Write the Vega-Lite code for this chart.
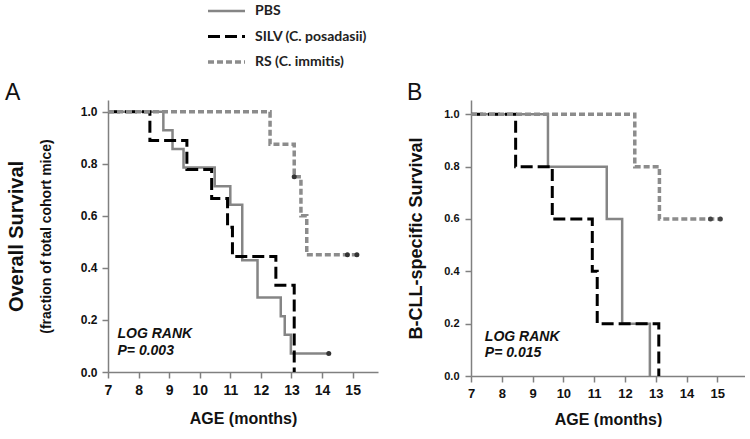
{
  "$schema": "https://vega.github.io/schema/vega-lite/v6.json",
  "background": "white",
  "padding": {"left": 4, "top": 0, "right": 0, "bottom": 0},
  "datasets": {
    "lines": [
      {"panel": "A", "series": "PBS", "x": 7, "y": 1},
      {"panel": "A", "series": "PBS", "x": 8.81, "y": 0.929},
      {"panel": "A", "series": "PBS", "x": 9.11, "y": 0.857},
      {"panel": "A", "series": "PBS", "x": 9.47, "y": 0.786},
      {"panel": "A", "series": "PBS", "x": 10.49, "y": 0.714},
      {"panel": "A", "series": "PBS", "x": 11.0, "y": 0.643},
      {"panel": "A", "series": "PBS", "x": 11.39, "y": 0.429},
      {"panel": "A", "series": "PBS", "x": 11.89, "y": 0.286},
      {"panel": "A", "series": "PBS", "x": 12.65, "y": 0.214},
      {"panel": "A", "series": "PBS", "x": 12.78, "y": 0.143},
      {"panel": "A", "series": "PBS", "x": 12.98, "y": 0.071},
      {"panel": "A", "series": "PBS", "x": 14.22, "y": 0.071},
      {"panel": "A", "series": "SILV", "x": 7, "y": 1},
      {"panel": "A", "series": "SILV", "x": 8.37, "y": 0.889},
      {"panel": "A", "series": "SILV", "x": 9.58, "y": 0.778},
      {"panel": "A", "series": "SILV", "x": 10.39, "y": 0.667},
      {"panel": "A", "series": "SILV", "x": 10.91, "y": 0.556},
      {"panel": "A", "series": "SILV", "x": 11.07, "y": 0.444},
      {"panel": "A", "series": "SILV", "x": 12.49, "y": 0.333},
      {"panel": "A", "series": "SILV", "x": 13.09, "y": 0},
      {"panel": "A", "series": "RS", "x": 7, "y": 1},
      {"panel": "A", "series": "RS", "x": 12.3, "y": 0.875},
      {"panel": "A", "series": "RS", "x": 13.09, "y": 0.75},
      {"panel": "A", "series": "RS", "x": 13.31, "y": 0.6},
      {"panel": "A", "series": "RS", "x": 13.5, "y": 0.45},
      {"panel": "A", "series": "RS", "x": 15.14, "y": 0.45},
      {"panel": "B", "series": "PBS", "x": 7, "y": 1},
      {"panel": "B", "series": "PBS", "x": 9.5, "y": 0.8},
      {"panel": "B", "series": "PBS", "x": 11.41, "y": 0.6},
      {"panel": "B", "series": "PBS", "x": 11.91, "y": 0.2},
      {"panel": "B", "series": "PBS", "x": 12.81, "y": 0},
      {"panel": "B", "series": "SILV", "x": 7, "y": 1},
      {"panel": "B", "series": "SILV", "x": 8.45, "y": 0.8},
      {"panel": "B", "series": "SILV", "x": 9.64, "y": 0.6},
      {"panel": "B", "series": "SILV", "x": 10.94, "y": 0.4},
      {"panel": "B", "series": "SILV", "x": 11.1, "y": 0.2},
      {"panel": "B", "series": "SILV", "x": 13.1, "y": 0},
      {"panel": "B", "series": "RS", "x": 7, "y": 1},
      {"panel": "B", "series": "RS", "x": 12.32, "y": 0.8},
      {"panel": "B", "series": "RS", "x": 13.12, "y": 0.6},
      {"panel": "B", "series": "RS", "x": 15.1, "y": 0.6}
    ],
    "censor": [
      {"panel": "A", "series": "PBS", "x": 14.22, "y": 0.071},
      {"panel": "A", "series": "RS", "x": 13.09, "y": 0.75},
      {"panel": "A", "series": "RS", "x": 14.83, "y": 0.45},
      {"panel": "A", "series": "RS", "x": 15.14, "y": 0.45},
      {"panel": "B", "series": "RS", "x": 14.78, "y": 0.6},
      {"panel": "B", "series": "RS", "x": 15.1, "y": 0.6}
    ],
    "notes": [
      {"panel": "A", "x": 7.31, "y": 0.13, "text": "LOG RANK\nP= 0.003"},
      {"panel": "B", "x": 7.45, "y": 0.135, "text": "LOG RANK\nP= 0.015"}
    ]
  },
  "spacing": 28,
  "hconcat": [
    {
      "width": 270,
      "height": 272,
      "title": {"text": "A", "anchor": "start", "frame": "bounds", "font": "Liberation Sans", "fontSize": 23, "fontWeight": "normal", "color": "#111", "baseline": "alphabetic", "offset": -23, "dx": -1},
      "resolve": {"axis": {"y": "independent"}},
      "layer": [
        {
          "data": {"name": "lines"},
          "transform": [{"filter": "datum.panel === 'A' && datum.series === 'PBS'"}],
          "mark": {"type": "line", "interpolate": "step-after"},
          "encoding": {
            "x": {"field": "x", "type": "quantitative", "scale": {"domain": [7, 15.83], "nice": false, "zero": false},
              "axis": {"values": [7, 8, 9, 10, 11, 12, 13, 14, 15], "tickCount": 20, "format": "d", "title": "AGE (months)", "labelFontSize": 14, "titleFontSize": 16, "labelPadding": 5, "titlePadding": 13, "labelFlush": false, "labelOverlap": false}},
            "y": {"field": "y", "type": "quantitative", "scale": {"domain": [0, 1.045], "nice": false, "zero": false},
              "axis": {"orient": "left", "values": [0, 0.2, 0.4, 0.6, 0.8, 1.0], "tickCount": 20, "format": ".1f", "title": "Overall Survival", "titleFontSize": 20, "labelFontSize": 12, "labelPadding": 5, "titleX": -82}},
            "color": {"field": "series", "type": "nominal", "scale": {"domain": ["PBS", "SILV", "RS"], "range": ["#858585", "#000000", "#8c8c8c"]},
              "legend": {"orient": "none", "legendX": 98, "legendY": -100, "title": null, "labelExpr": "datum.value === 'PBS' ? 'PBS' : datum.value === 'SILV' ? 'SILV (C. posadasii)' : 'RS (C. immitis)'"}},
            "strokeDash": {"field": "series", "type": "nominal", "scale": {"domain": ["PBS", "SILV", "RS"], "range": [[1, 0], [12, 5], [6, 3]]}},
            "strokeWidth": {"field": "series", "type": "nominal", "scale": {"domain": ["PBS", "SILV", "RS"], "range": [2.5, 3.5, 2.5]}}
          }
        },
        {
          "data": {"name": "lines"},
          "transform": [{"filter": "datum.panel === 'A' && datum.series === 'SILV'"}],
          "mark": {"type": "line", "interpolate": "step-after"},
          "encoding": {
            "x": {"field": "x", "type": "quantitative", "scale": {"domain": [7, 15.83], "nice": false, "zero": false}},
            "y": {"field": "y", "type": "quantitative", "scale": {"domain": [0, 1.045], "nice": false, "zero": false}, "axis": null},
            "color": {"field": "series", "type": "nominal", "scale": {"domain": ["PBS", "SILV", "RS"], "range": ["#858585", "#000000", "#8c8c8c"]}},
            "strokeDash": {"field": "series", "type": "nominal", "scale": {"domain": ["PBS", "SILV", "RS"], "range": [[1, 0], [12, 5], [6, 3]]}},
            "strokeWidth": {"field": "series", "type": "nominal", "scale": {"domain": ["PBS", "SILV", "RS"], "range": [2.5, 3.5, 2.5]}}
          }
        },
        {
          "data": {"name": "lines"},
          "transform": [{"filter": "datum.panel === 'A' && datum.series === 'RS'"}],
          "mark": {"type": "line", "interpolate": "step-after"},
          "encoding": {
            "x": {"field": "x", "type": "quantitative", "scale": {"domain": [7, 15.83], "nice": false, "zero": false}},
            "y": {"field": "y", "type": "quantitative", "scale": {"domain": [0, 1.045], "nice": false, "zero": false}, "axis": null},
            "color": {"field": "series", "type": "nominal", "scale": {"domain": ["PBS", "SILV", "RS"], "range": ["#858585", "#000000", "#8c8c8c"]}},
            "strokeDash": {"field": "series", "type": "nominal", "scale": {"domain": ["PBS", "SILV", "RS"], "range": [[1, 0], [12, 5], [6, 3]]}},
            "strokeWidth": {"field": "series", "type": "nominal", "scale": {"domain": ["PBS", "SILV", "RS"], "range": [2.5, 3.5, 2.5]}}
          }
        },
        {
          "data": {"name": "censor"},
          "transform": [{"filter": "datum.panel === 'A'"}],
          "mark": {"type": "point", "filled": true, "size": 25, "color": "#333333", "opacity": 1},
          "encoding": {
            "x": {"field": "x", "type": "quantitative", "scale": {"domain": [7, 15.83], "nice": false, "zero": false}},
            "y": {"field": "y", "type": "quantitative", "scale": {"domain": [0, 1.045], "nice": false, "zero": false}, "axis": null}
          }
        },
        {
          "data": {"name": "notes"},
          "transform": [{"filter": "datum.panel === 'A'"}],
          "mark": {"type": "text", "align": "left", "baseline": "alphabetic", "font": "Liberation Sans", "fontSize": 14, "fontWeight": "bold", "fontStyle": "italic", "lineBreak": "\n", "lineHeight": 17, "color": "#111"},
          "encoding": {
            "x": {"field": "x", "type": "quantitative", "scale": {"domain": [7, 15.83], "nice": false, "zero": false}},
            "y": {"field": "y", "type": "quantitative", "scale": {"domain": [0, 1.045], "nice": false, "zero": false},
              "axis": {"orient": "left", "title": "(fraction of total cohort mice)", "titleFontSize": 14, "labels": false, "ticks": false, "domain": false, "titleX": -55}},
            "text": {"field": "text"}
          }
        }
      ]
    },
    {
      "width": 274,
      "height": 276,
      "title": {"text": "B", "anchor": "start", "frame": "bounds", "font": "Liberation Sans", "fontSize": 23, "fontWeight": "normal", "color": "#111", "baseline": "alphabetic", "offset": -23},
      "layer": [
        {
          "data": {"name": "lines"},
          "transform": [{"filter": "datum.panel === 'B' && datum.series === 'PBS'"}],
          "mark": {"type": "line", "interpolate": "step-after"},
          "encoding": {
            "x": {"field": "x", "type": "quantitative", "scale": {"domain": [7, 15.9], "nice": false, "zero": false},
              "axis": {"values": [7, 8, 9, 10, 11, 12, 13, 14, 15], "tickCount": 20, "format": "d", "title": "AGE (months)", "labelFontSize": 13, "titleFontSize": 16, "labelPadding": 5, "titlePadding": 11, "labelFlush": false, "labelOverlap": false}},
            "y": {"field": "y", "type": "quantitative", "scale": {"domain": [0, 1.0546], "nice": false, "zero": false},
              "axis": {"values": [0, 0.2, 0.4, 0.6, 0.8, 1.0], "tickCount": 20, "format": ".1f", "title": "B-CLL-specific Survival", "titleFontSize": 18, "labelFontSize": 11, "labelPadding": 6, "titleX": -46}},
            "color": {"field": "series", "type": "nominal", "scale": {"domain": ["PBS", "SILV", "RS"], "range": ["#858585", "#000000", "#8c8c8c"]}},
            "strokeDash": {"field": "series", "type": "nominal", "scale": {"domain": ["PBS", "SILV", "RS"], "range": [[1, 0], [12, 5], [6, 3]]}},
            "strokeWidth": {"field": "series", "type": "nominal", "scale": {"domain": ["PBS", "SILV", "RS"], "range": [2.5, 3.5, 2.5]}}
          }
        },
        {
          "data": {"name": "lines"},
          "transform": [{"filter": "datum.panel === 'B' && datum.series === 'SILV'"}],
          "mark": {"type": "line", "interpolate": "step-after"},
          "encoding": {
            "x": {"field": "x", "type": "quantitative", "scale": {"domain": [7, 15.9], "nice": false, "zero": false}},
            "y": {"field": "y", "type": "quantitative", "scale": {"domain": [0, 1.0546], "nice": false, "zero": false}},
            "color": {"field": "series", "type": "nominal", "scale": {"domain": ["PBS", "SILV", "RS"], "range": ["#858585", "#000000", "#8c8c8c"]}},
            "strokeDash": {"field": "series", "type": "nominal", "scale": {"domain": ["PBS", "SILV", "RS"], "range": [[1, 0], [12, 5], [6, 3]]}},
            "strokeWidth": {"field": "series", "type": "nominal", "scale": {"domain": ["PBS", "SILV", "RS"], "range": [2.5, 3.5, 2.5]}}
          }
        },
        {
          "data": {"name": "lines"},
          "transform": [{"filter": "datum.panel === 'B' && datum.series === 'RS'"}],
          "mark": {"type": "line", "interpolate": "step-after"},
          "encoding": {
            "x": {"field": "x", "type": "quantitative", "scale": {"domain": [7, 15.9], "nice": false, "zero": false}},
            "y": {"field": "y", "type": "quantitative", "scale": {"domain": [0, 1.0546], "nice": false, "zero": false}},
            "color": {"field": "series", "type": "nominal", "scale": {"domain": ["PBS", "SILV", "RS"], "range": ["#858585", "#000000", "#8c8c8c"]}},
            "strokeDash": {"field": "series", "type": "nominal", "scale": {"domain": ["PBS", "SILV", "RS"], "range": [[1, 0], [12, 5], [6, 3]]}},
            "strokeWidth": {"field": "series", "type": "nominal", "scale": {"domain": ["PBS", "SILV", "RS"], "range": [2.5, 3.5, 2.5]}}
          }
        },
        {
          "data": {"name": "censor"},
          "transform": [{"filter": "datum.panel === 'B'"}],
          "mark": {"type": "point", "filled": true, "size": 25, "color": "#444444", "opacity": 1},
          "encoding": {
            "x": {"field": "x", "type": "quantitative", "scale": {"domain": [7, 15.9], "nice": false, "zero": false}},
            "y": {"field": "y", "type": "quantitative", "scale": {"domain": [0, 1.0546], "nice": false, "zero": false}}
          }
        },
        {
          "data": {"name": "notes"},
          "transform": [{"filter": "datum.panel === 'B'"}],
          "mark": {"type": "text", "align": "left", "baseline": "alphabetic", "font": "Liberation Sans", "fontSize": 14, "fontWeight": "bold", "fontStyle": "italic", "lineBreak": "\n", "lineHeight": 16, "color": "#111"},
          "encoding": {
            "x": {"field": "x", "type": "quantitative", "scale": {"domain": [7, 15.9], "nice": false, "zero": false}},
            "y": {"field": "y", "type": "quantitative", "scale": {"domain": [0, 1.0546], "nice": false, "zero": false}},
            "text": {"field": "text"}
          }
        }
      ]
    }
  ],
  "config": {
    "view": {"stroke": null},
    "axis": {"grid": false, "domainColor": "#808080", "domainWidth": 1.5, "tickColor": "#808080", "tickWidth": 1.5, "tickSize": 6,
      "labelFont": "Liberation Sans", "labelFontWeight": "bold", "labelColor": "#111", "labelOverlap": false,
      "titleFont": "Liberation Sans", "titleFontWeight": "bold", "titleColor": "#111"},
    "axisX": {"labelOverlap": false, "labelFlush": false},
    "legend": {"labelFont": "Liberation Sans Narrow, Lato", "labelFontSize": 14, "labelFontWeight": "bold", "labelColor": "#222", "symbolType": "stroke", "symbolSize": 1369, "clipHeight": 22, "rowPadding": 3.5, "labelOffset": 8, "padding": 0}
  }
}
